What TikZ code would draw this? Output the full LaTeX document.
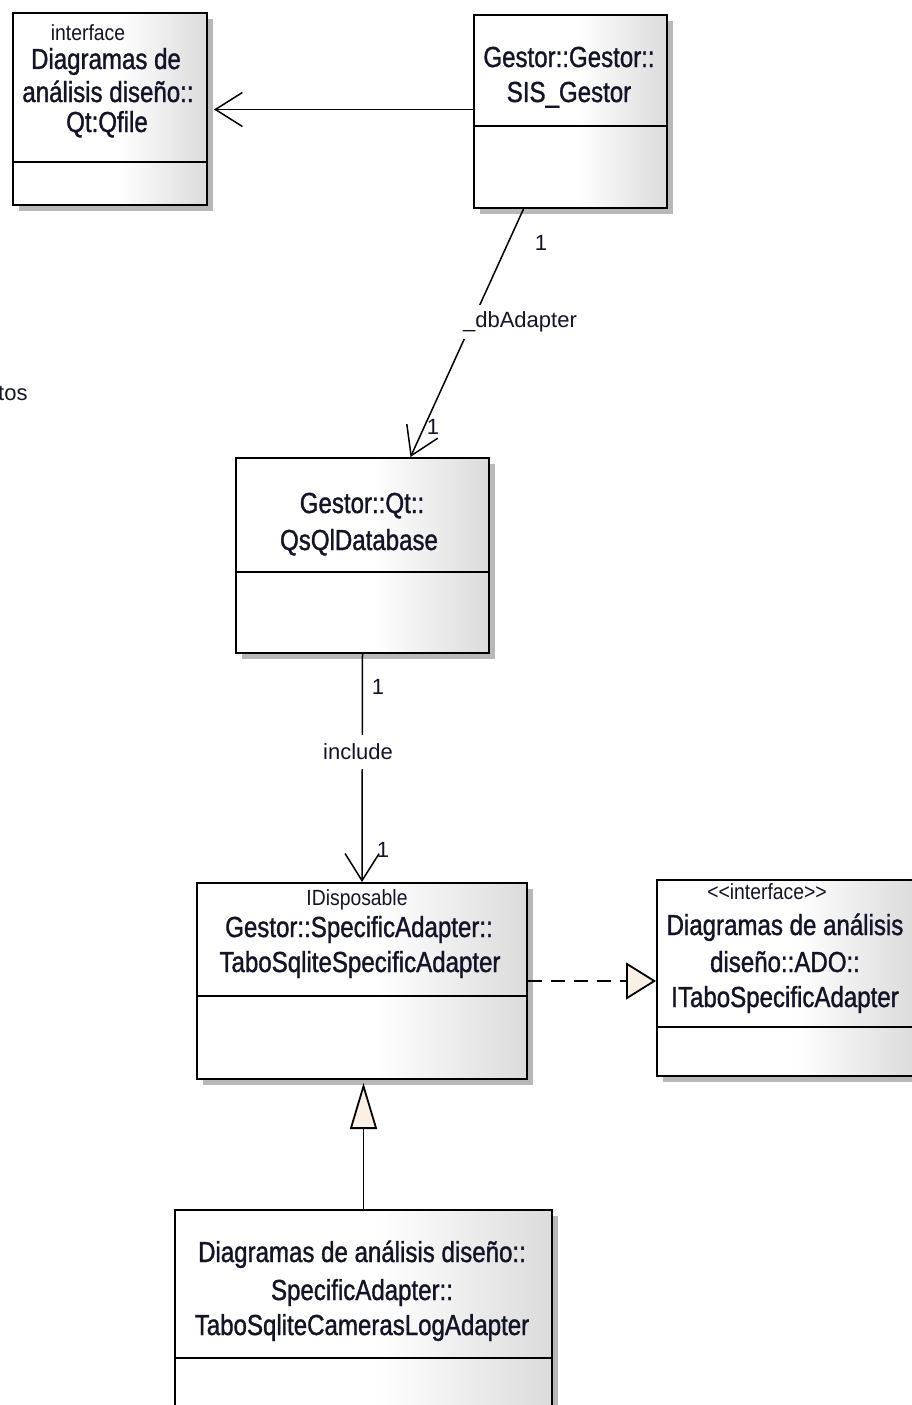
\documentclass[tikz,border=0pt]{standalone}
\usepackage{fontspec}
\newfontfamily\umlfont{Liberation Sans}[FakeStretch=0.83,FakeBold=1.2]
\newfontfamily\lblfont{Liberation Sans}
\usetikzlibrary{arrows.meta,shadows}
\definecolor{cream}{HTML}{FAF0E4}
\definecolor{ink}{HTML}{141428}
\pgfdeclarehorizontalshading{boxshade}{100bp}{color(0bp)=(white); color(25bp)=(white); color(52bp)=(white); color(75bp)=(black!14); color(100bp)=(black!14)}
\tikzset{
  umlbox/.style={draw=black, line width=2pt, shade, shading=boxshade, anchor=north west, inner sep=0pt,
    drop shadow={shadow xshift=6pt, shadow yshift=-6pt, fill=black!28, opacity=1}},
  divline/.style={draw=black, line width=2pt},
  title/.style={font={\umlfont\fontsize{29pt}{32pt}\selectfont}, text=ink, anchor=base, inner sep=0pt},
  stereo/.style={font={\lblfont\fontsize{22pt}{25pt}\selectfont}, text=ink, anchor=base, inner sep=0pt, xscale=0.88},
  lbl/.style={font={\lblfont\fontsize{22pt}{25pt}\selectfont}, text=ink, inner sep=2pt},
  assoc/.style={draw=black, line width=1.5pt, -{Straight Barb[length=27pt,width=34pt]}},
  realiz/.style={draw=black, line width=1.8pt, dash pattern=on 14pt off 9pt, -{Triangle[length=30pt,width=37pt,fill=cream]}},
  general/.style={draw=black, line width=1.8pt, -{Triangle[length=46pt,width=27pt,fill=cream]}}
}
\begin{document}
\begin{tikzpicture}[x=1pt,y=-1pt]
\path[use as bounding box, clip] (0,0) rectangle (912,1405);
\fill[white] (0,0) rectangle (912,1405);

% boxes
\node[umlbox, minimum width=194pt, minimum height=192pt] (qfile) at (12,12) {};
\node[umlbox, minimum width=193pt, minimum height=193pt] (gestor) at (473,14) {};
\node[umlbox, minimum width=253pt, minimum height=195pt] (qsql) at (235,457) {};
\node[umlbox, minimum width=330pt, minimum height=196pt] (tspec) at (196,882) {};
\node[umlbox, minimum width=258pt, minimum height=196pt] (itabo) at (656,879) {};
\node[umlbox, minimum width=377pt, minimum height=215pt] (cam) at (174,1209) {};

% dividers
\draw[divline] (qfile.west |- 0,162) -- (qfile.east |- 0,162);
\draw[divline] (gestor.west |- 0,126) -- (gestor.east |- 0,126);
\draw[divline] (qsql.west |- 0,572) -- (qsql.east |- 0,572);
\draw[divline] (tspec.west |- 0,996) -- (tspec.east |- 0,996);
\draw[divline] (itabo.west |- 0,1027) -- (itabo.east |- 0,1027);
\draw[divline] (cam.west |- 0,1358) -- (cam.east |- 0,1358);

% texts
\node[stereo] (qfileS) at (88,41) {interface};
\node[title] (qfileT1) at (106,69) {Diagramas de};
\node[title] (qfileT2) at (108,102) {análisis diseño::};
\node[title] (qfileT3) at (107,132) {Qt:Qfile};

\node[title] (gestorT1) at (569,67) {Gestor::Gestor::};
\node[title] (gestorT2) at (569,102) {SIS\_Gestor};

\node[title] (qsqlT1) at (362,513) {Gestor::Qt::};
\node[title] (qsqlT2) at (359,550) {QsQlDatabase};

\node[stereo] (tspecS) at (357,905) {IDisposable};
\node[title] (tspecT1) at (359,937) {Gestor::SpecificAdapter::};
\node[title] (tspecT2) at (360,972) {TaboSqliteSpecificAdapter};

\node[stereo] (itaboS) at (767,899) {<{}<interface>{}>};
\node[title] (itaboT1) at (785,935) {Diagramas de análisis};
\node[title] (itaboT2) at (785,972) {diseño::ADO::};
\node[title] (itaboT3) at (785,1007) {ITaboSpecificAdapter};

\node[title] (camT1) at (362,1262) {Diagramas de análisis diseño::};
\node[title] (camT2) at (362,1300) {SpecificAdapter::};
\node[title] (camT3) at (362,1335) {TaboSqliteCamerasLogAdapter};

\node[lbl, anchor=west] (tos) at (-4,393) {tos};

% connectors
\coordinate (gstart) at ([yshift=2pt]gestor.west);
\coordinate (qtip) at ([xshift=6pt]qfile.east);
\draw[assoc] (gstart) -- (qtip |- gstart);

\draw[assoc] ([xshift=-47pt]gestor.south) -- ([xshift=48pt]qsql.north);
\node[lbl, fill=white, inner ysep=7pt] (dbl) at (520,322) {\_dbAdapter};
\node[lbl] (m1) at (541,243) {1};
\node[lbl] (m2) at (433,427) {1};

\draw[assoc] (qsql.south) -- (tspec.north);
\node[lbl, fill=white, inner ysep=9pt] (incl) at (358,752) {include};
\node[lbl] (m3) at (378,687) {1};
\node[lbl] (m4) at (383,850) {1};

\draw[realiz] (tspec.east) -- (itabo.west |- tspec.east);

\coordinate (gtip) at ([yshift=-3pt]tspec.south);
\draw[general] (cam.north) -- (cam.north |- gtip);
\end{tikzpicture}
\end{document}
